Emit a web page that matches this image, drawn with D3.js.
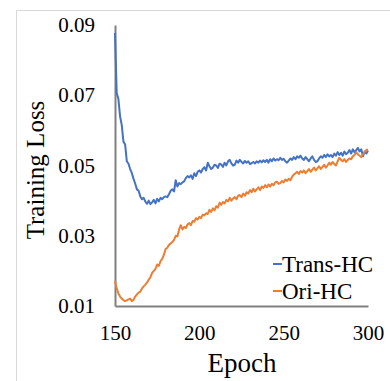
<!DOCTYPE html>
<html>
<head>
<meta charset="utf-8">
<script src="https://cdn.jsdelivr.net/npm/d3@7"></script>
<style>
  body { margin: 0; background: #fff; }
  svg { display: block; }
  text { font-family: "Liberation Serif", "Times New Roman", serif; fill: #000; }
</style>
</head>
<body>
<svg id="chart" width="390" height="381"></svg>
<script>
// epochs 150..300, one value per epoch
const epochs = d3.range(150, 301);

const transHC = [
  0.0877, 0.0706, 0.0690, 0.0640, 0.0615, 0.0568, 0.0560, 0.0512, 0.0505, 0.0490,
  0.0478, 0.0462, 0.0448, 0.0432, 0.0428, 0.0412, 0.0404, 0.0408, 0.0397, 0.0391,
  0.0400, 0.0390, 0.0395, 0.0402, 0.0392, 0.0405, 0.0398, 0.0408, 0.0404, 0.0410,
  0.0412, 0.0410, 0.0418, 0.0428, 0.0432, 0.0426, 0.0458, 0.0440, 0.0450, 0.0447,
  0.0452, 0.0455, 0.0464, 0.0470, 0.0466, 0.0472, 0.0462, 0.0478, 0.0470, 0.0482,
  0.0486, 0.0480, 0.0490, 0.0495, 0.0486, 0.0508, 0.0498, 0.0490, 0.0494, 0.0502,
  0.0500, 0.0493, 0.0505, 0.0503, 0.0496, 0.0508, 0.0500, 0.0512, 0.0516, 0.0506,
  0.0500, 0.0502, 0.0514, 0.0508, 0.0516, 0.0510, 0.0506, 0.0513, 0.0508, 0.0512,
  0.0504, 0.0507, 0.0510, 0.0506, 0.0512, 0.0508, 0.0514, 0.0509, 0.0515, 0.0510,
  0.0516, 0.0508, 0.0518, 0.0512, 0.0520, 0.0514, 0.0518, 0.0515, 0.0522, 0.0516,
  0.0519, 0.0512, 0.0508, 0.0514, 0.0520, 0.0516, 0.0524, 0.0518, 0.0526, 0.0522,
  0.0528, 0.0520, 0.0516, 0.0524, 0.0518, 0.0512, 0.0520, 0.0526, 0.0516, 0.0510,
  0.0512, 0.0520, 0.0526, 0.0522, 0.0530, 0.0524, 0.0532, 0.0526, 0.0530, 0.0524,
  0.0534, 0.0528, 0.0538, 0.0530, 0.0536, 0.0528, 0.0540, 0.0532, 0.0536, 0.0544,
  0.0534, 0.0546, 0.0538, 0.0544, 0.0550, 0.0540, 0.0546, 0.0526, 0.0540, 0.0534,
  0.0542
];

const oriHC = [
  0.0172, 0.0150, 0.0136, 0.0127, 0.0121, 0.0117, 0.0114, 0.0116, 0.0119, 0.0121,
  0.0114, 0.0118, 0.0127, 0.0133, 0.0138, 0.0141, 0.0150, 0.0156, 0.0161, 0.0167,
  0.0175, 0.0182, 0.0194, 0.0200, 0.0206, 0.0218, 0.0214, 0.0228, 0.0234, 0.0246,
  0.0262, 0.0266, 0.0274, 0.0278, 0.0282, 0.0288, 0.0300, 0.0298, 0.0318, 0.0330,
  0.0318, 0.0325, 0.0322, 0.0332, 0.0336, 0.0330, 0.0342, 0.0340, 0.0350, 0.0346,
  0.0354, 0.0350, 0.0360, 0.0358, 0.0364, 0.0362, 0.0374, 0.0368, 0.0378, 0.0372,
  0.0384, 0.0380, 0.0394, 0.0388, 0.0396, 0.0392, 0.0402, 0.0398, 0.0408, 0.0400,
  0.0406, 0.0410, 0.0404, 0.0414, 0.0416, 0.0410, 0.0420, 0.0414, 0.0424, 0.0420,
  0.0430, 0.0424, 0.0434, 0.0426, 0.0432, 0.0438, 0.0430, 0.0440, 0.0436, 0.0444,
  0.0438, 0.0446, 0.0440, 0.0448, 0.0444, 0.0452, 0.0454, 0.0448, 0.0450, 0.0456,
  0.0452, 0.0460, 0.0456, 0.0462, 0.0458, 0.0468, 0.0474, 0.0478, 0.0482, 0.0476,
  0.0484, 0.0480, 0.0486, 0.0478, 0.0484, 0.0490, 0.0482, 0.0488, 0.0494, 0.0486,
  0.0492, 0.0498, 0.0490, 0.0496, 0.0502, 0.0494, 0.0500, 0.0508, 0.0502, 0.0510,
  0.0504, 0.0500, 0.0512, 0.0522, 0.0516, 0.0512, 0.0518, 0.0510, 0.0516, 0.0520,
  0.0518, 0.0526, 0.0530, 0.0538, 0.0532, 0.0528, 0.0524, 0.0532, 0.0538, 0.0544,
  0.0546
];

const xTicks = [150, 200, 250, 300];
const yTicks = [0.01, 0.03, 0.05, 0.07, 0.09];

const seriesNames = ["Trans-HC", "Ori-HC"];
const seriesColors = ["#4472C4", "#ED7D31"];
const series = [transHC, oriHC];

const svg = d3.select("#chart");

// outer chart frame (light gray, cut by the window on right/bottom)
svg.append("rect")
  .attr("x", 16.5).attr("y", 10.5)
  .attr("width", 400).attr("height", 400)
  .attr("fill", "none")
  .attr("stroke", "#d9d9d9");

const x = d3.scaleLinear().domain([150, 300]).range([115, 368]);
const y = d3.scaleLinear().domain([0.01, 0.09]).range([306, 25]);

// axes
const xAxis = svg.append("g")
  .attr("transform", `translate(0,${y(0.01)})`)
  .call(d3.axisBottom(x).tickValues(xTicks).tickSize(0).tickPadding(19));
xAxis.select(".domain").attr("stroke", "#808080").attr("stroke-width", 2);
xAxis.selectAll("text").style("font-size", "21px");

const yAxis = svg.append("g")
  .attr("transform", `translate(${x(150)},0)`)
  .call(d3.axisLeft(y).tickValues(yTicks).tickFormat(d3.format(".2f")).tickSize(0).tickPadding(20));
yAxis.select(".domain").attr("stroke", "#808080").attr("stroke-width", 2);
yAxis.selectAll("text").style("font-size", "21px");

// lines
const line = d3.line()
  .x((d, i) => x(epochs[i]))
  .y(d => y(d));

series.forEach((s, i) => {
  svg.append("path")
    .datum(s)
    .attr("fill", "none")
    .attr("stroke", seriesColors[i])
    .attr("stroke-width", 2)
    .attr("stroke-linejoin", "round")
    .attr("d", line);
});

// axis titles
svg.append("text")
  .attr("transform", `translate(44,170) rotate(-90)`)
  .attr("text-anchor", "middle")
  .style("font-size", "25px")
  .text("Training Loss");

svg.append("text")
  .attr("x", 242).attr("y", 372)
  .attr("text-anchor", "middle")
  .style("font-size", "27px")
  .text("Epoch");

// legend
const legend = svg.append("g").attr("transform", "translate(273,264)");
seriesNames.forEach((name, i) => {
  const g = legend.append("g").attr("transform", `translate(0,${i * 27})`);
  g.append("line")
    .attr("x1", 0).attr("x2", 9)
    .attr("stroke", seriesColors[i]).attr("stroke-width", 2);
  g.append("text")
    .attr("x", 9).attr("y", 8)
    .style("font-size", "23px")
    .text(name);
});
</script>
</body>
</html>
